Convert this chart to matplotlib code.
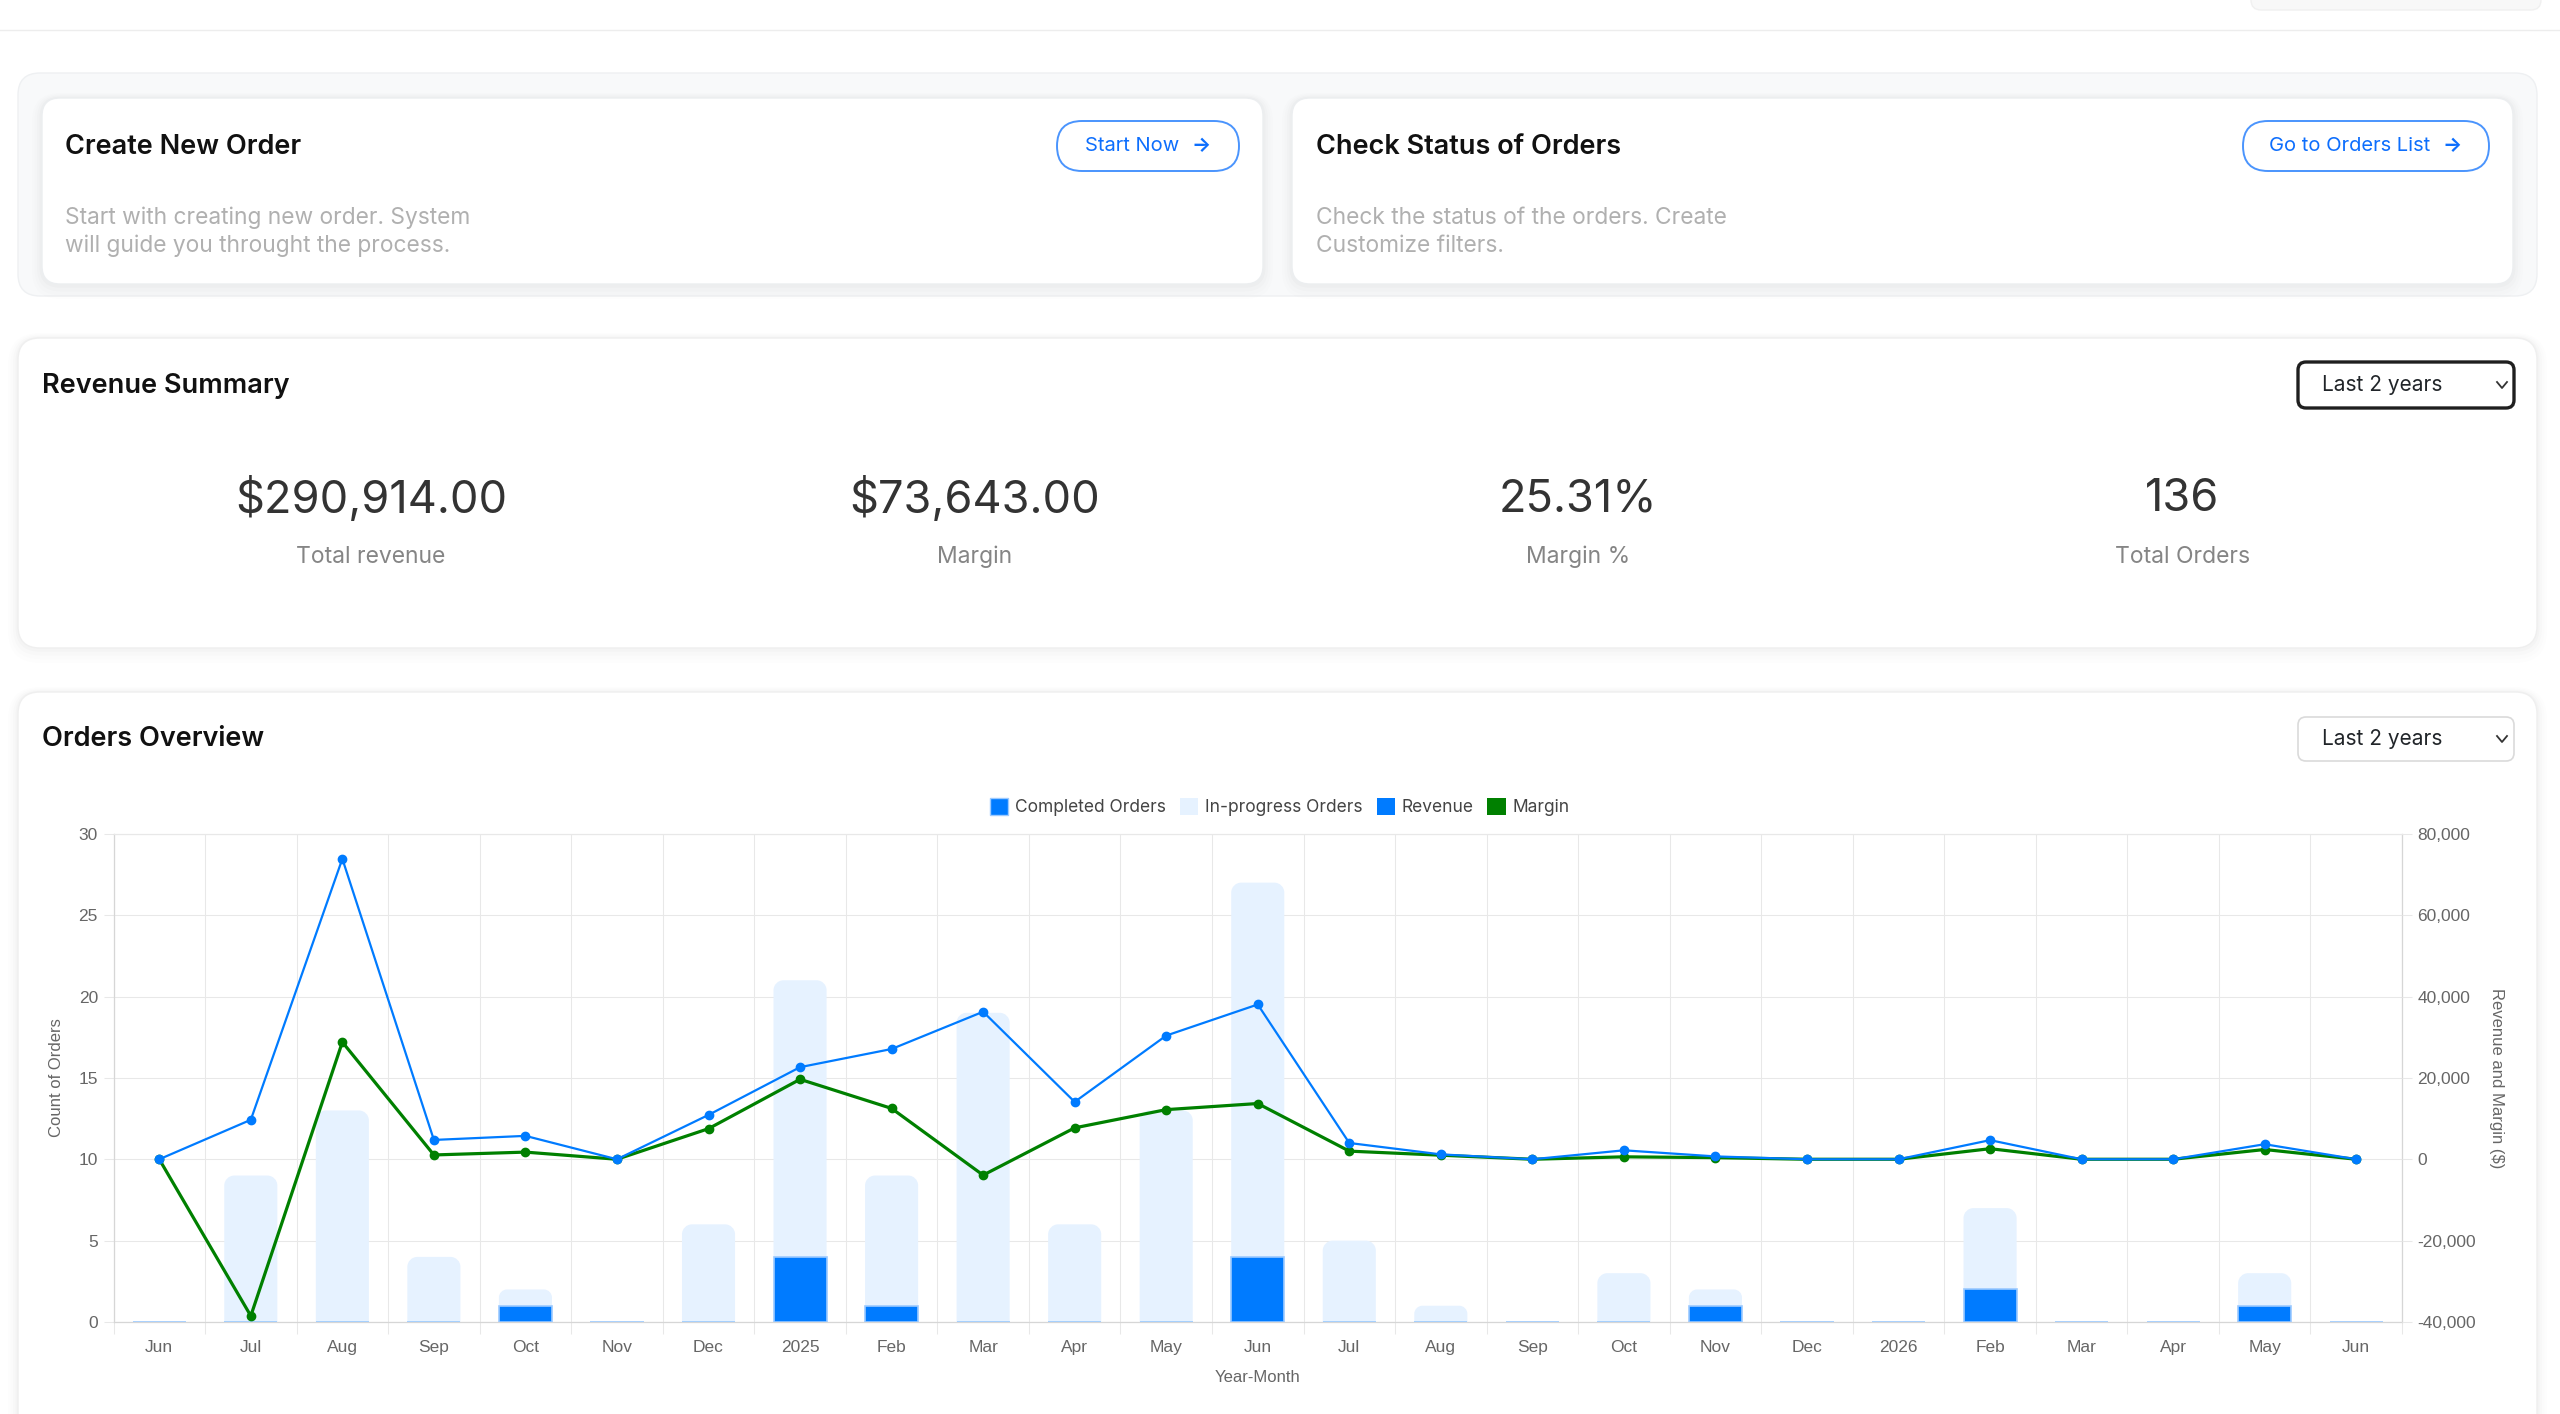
import numpy as np
import matplotlib
matplotlib.use('Agg')
import matplotlib.pyplot as plt
from matplotlib.patches import FancyBboxPatch, PathPatch, Patch
from matplotlib.path import Path
from matplotlib.ticker import FuncFormatter

# Chart data.
months = ['Jun', 'Jul', 'Aug', 'Sep', 'Oct', 'Nov', 'Dec', '2025', 'Feb', 'Mar',
          'Apr', 'May', 'Jun', 'Jul', 'Aug', 'Sep', 'Oct', 'Nov', 'Dec', '2026',
          'Feb', 'Mar', 'Apr', 'May', 'Jun']
completed = [0, 0, 0, 0, 1, 0, 0, 4, 1, 0, 0, 0, 4, 0, 0, 0, 0, 1, 0, 0, 2, 0, 0, 1, 0]
in_progress = [0, 9, 13, 4, 1, 0, 6, 17, 8, 19, 6, 13, 23, 5, 1, 0, 3, 1, 0, 0, 5, 0, 0, 2, 0]
revenue = [0, 9700, 73850, 4750, 5750, 0, 10900, 22640, 27100, 36260, 14100, 30400,
           38050, 4000, 1200, 0, 2200, 700, 0, 0, 4700, 0, 0, 3700, 0]
margin = [0, -38500, 28800, 1060, 1760, 0, 7520, 19650, 12500, -3900, 7720, 12200,
          13700, 2000, 1000, 0, 600, 400, 0, 0, 2600, 0, 0, 2400, 0]

legend_labels = ['Completed Orders', 'In-progress Orders', 'Revenue', 'Margin']

# Summary numbers.
metric_values = ['$290,914.00', '$73,643.00', '25.31%', '136']
metric_labels = ['Total revenue', 'Margin', 'Margin %', 'Total Orders']

BLUE = '#007bff'
LIGHT = '#e6f2ff'
GREEN = '#008000'
GRID = '#e8e8e8'

plt.rcParams['font.family'] = ['Inter', 'DejaVu Sans']

W, H = 2560, 1414
fig = plt.figure(figsize=(W / 100, H / 100), dpi=100)
fig.patch.set_facecolor('white')

# A pixel-space axes for the page around the chart.
page = fig.add_axes([0, 0, 1, 1])
page.set_xlim(0, W)
page.set_ylim(H, 0)
page.axis('off')


def card(x0, y0, x1, y1, r, face, edge, lw=1.0, shadow=True):
    if shadow:
        for i, a in enumerate([0.016, 0.012, 0.009, 0.006]):
            g = (i + 1) * 5
            page.add_patch(FancyBboxPatch(
                (x0 - g / 2, y0 - g / 4), x1 - x0 + g, y1 - y0 + g,
                boxstyle=f'round,pad=0,rounding_size={r + g / 2}',
                fc='black', ec='none', alpha=a))
    page.add_patch(FancyBboxPatch(
        (x0, y0), x1 - x0, y1 - y0,
        boxstyle=f'round,pad=0,rounding_size={r}', fc=face, ec=edge, lw=lw))


def pill(x0, y0, x1, y1, r, edge, lw, face='white'):
    page.add_patch(FancyBboxPatch(
        (x0, y0), x1 - x0, y1 - y0,
        boxstyle=f'round,pad=0,rounding_size={r}', fc=face, ec=edge, lw=lw))


def chevron(cx, cy):
    page.plot([cx - 5, cx, cx + 5], [cy - 3, cy + 3, cy - 3], color='#333', lw=1.3)


# Header strip
page.axhline(29.5, color='#ededed', lw=1)
pill(2251, -20, 2541, 10, 10, '#f0f0f0', 1, face='#f8f8f8')

# Quick action section
card(18, 73, 2537, 296, 22, '#f8f9fa', '#eef0f2', shadow=False)
card(42, 98, 1263, 284, 18, 'white', '#eceef0')
card(1292, 98, 2513, 284, 18, 'white', '#eceef0')

head_kw = dict(fontsize=19.5, color='#111111', va='center', fontweight='semibold')
desc_kw = dict(fontsize=16.4, color='#b0b0b0', va='center')
btn_kw = dict(fontsize=14.5, color='#0d6efd', va='center')

page.text(65, 147, 'Create New Order', **head_kw)
page.text(65, 218, 'Start with creating new order. System', **desc_kw)
page.text(65, 246, 'will guide you throught the process.', **desc_kw)
pill(1057, 121, 1239, 171, 25, '#4a94fd', 1.4)
page.text(1085, 146, 'Start Now', **btn_kw)
page.text(1201, 146, '→', ha='center', fontweight='bold', **btn_kw)

page.text(1316, 147, 'Check Status of Orders', **head_kw)
page.text(1316, 218, 'Check the status of the orders. Create', **desc_kw)
page.text(1316, 246, 'Customize filters.', **desc_kw)
pill(2243, 121, 2489, 171, 25, '#4a94fd', 1.4)
page.text(2269, 146, 'Go to Orders List', **btn_kw)
page.text(2452, 146, '→', ha='center', fontweight='bold', **btn_kw)

# Revenue summary
card(18, 338, 2537, 648, 22, 'white', '#efefef')
page.text(42, 386, 'Revenue Summary', **head_kw)
pill(2298, 362, 2514, 408, 8, '#1f1f1f', 2.4)
page.text(2322, 385, 'Last 2 years', fontsize=15, color='#212529', va='center')
chevron(2502, 385)

for i, (val, lab) in enumerate(zip(metric_values, metric_labels)):
    cx = 371 + i * 603.7
    page.text(cx, 499, val, fontsize=32.5, color='#333333', ha='center', va='center')
    page.text(cx, 557, lab, fontsize=16.5, color='#858585', ha='center', va='center')

# Orders overview card
card(18, 692, 2537, 1460, 22, 'white', '#efefef')
page.text(42, 739, 'Orders Overview', **head_kw)
pill(2298, 717, 2514, 761, 8, '#dadada', 1.2)
page.text(2322, 739, 'Last 2 years', fontsize=15, color='#212529', va='center')
chevron(2502, 739)

# Chart
L, R, T, B = 113.5, 2402, 833.8, 1322
ax = fig.add_axes([L / W, 1 - B / H, (R - L) / W, (B - T) / H])
ax.set_facecolor('none')
n = len(months)
x = np.arange(n)
ax.set_xlim(-0.5, n - 0.5)
ax.set_ylim(0, 30)
bar_w = 0.58

p0 = ax.transData.transform((0, 0))
p1 = ax.transData.transform((1, 1))
sx, sy = p1[0] - p0[0], p1[1] - p0[1]


def rounded_top_bar(xc, bottom, height, r_px=10, **kw):
    if height <= 0:
        return
    r = min(r_px, height * sy / 2, bar_w * sx / 2)
    rx, ry = r / sx, r / sy
    x0, x1 = xc - bar_w / 2, xc + bar_w / 2
    y0, y1 = bottom, bottom + height
    k = 0.5523
    verts = [(x0, y0), (x0, y1 - ry), (x0, y1 - ry + k * ry), (x0 + rx - k * rx, y1),
             (x0 + rx, y1), (x1 - rx, y1), (x1 - rx + k * rx, y1),
             (x1, y1 - ry + k * ry), (x1, y1 - ry), (x1, y0), (x0, y0)]
    codes = [Path.MOVETO, Path.LINETO, Path.CURVE4, Path.CURVE4, Path.CURVE4,
             Path.LINETO, Path.CURVE4, Path.CURVE4, Path.CURVE4, Path.LINETO,
             Path.CLOSEPOLY]
    ax.add_patch(PathPatch(Path(verts, codes), **kw))


for xi, c, p in zip(x, completed, in_progress):
    rounded_top_bar(xi, c, p, fc=LIGHT, ec='none', zorder=2)
ax.bar(x, completed, width=bar_w, color=BLUE, edgecolor='#9ccaff', linewidth=1.2,
       zorder=3)

ax.set_xticks(np.arange(-0.5, n, 1))
ax.set_xticks(x, minor=True)
ax.set_xticklabels(months, minor=True)
ax.tick_params(axis='x', which='major', length=8.6, width=0.75, color=GRID,
               labelbottom=False)
ax.tick_params(axis='x', which='minor', length=0, pad=13, labelsize=12.5,
               labelcolor='#666666')
ax.set_yticks(range(0, 31, 5))
ax.tick_params(axis='y', length=7.2, width=0.75, color=GRID, pad=4, labelsize=12.5,
               labelcolor='#666666')
ax.grid(True, which='major', color=GRID, lw=0.75)
ax.set_axisbelow(True)
for name, sp in ax.spines.items():
    sp.set_color('#d6d6d6' if name in ('left', 'bottom', 'right') else GRID)
    sp.set_linewidth(0.9)

for lab in ax.get_xticklabels(minor=True) + ax.get_yticklabels():
    lab.set_family(['Liberation Sans', 'DejaVu Sans'])

ax2 = ax.twinx()
ax2.set_ylim(-40000, 80000)
ax2.set_yticks(range(-40000, 80001, 20000))
ax2.yaxis.set_major_formatter(FuncFormatter(lambda v, _: f'{int(v):,}'))
ax2.tick_params(axis='y', length=7.2, width=0.75, color=GRID, pad=4, labelsize=12.5,
                labelcolor='#666666')
for lab in ax2.get_yticklabels():
    lab.set_family(['Liberation Sans', 'DejaVu Sans'])
for sp in ax2.spines.values():
    sp.set_visible(False)

ax2.plot(x, margin, color=GREEN, lw=2.3, marker='o', ms=6, zorder=3)
ax2.plot(x, revenue, color=BLUE, lw=1.6, marker='o', ms=6, zorder=4)

title_kw = dict(fontsize=12, color='#666666', ha='center', va='center',
                family=['Liberation Sans', 'DejaVu Sans'], transform=ax.transAxes)
ax.text(-0.0247, 0.5, 'Count of Orders', rotation=90, **title_kw)
ax.text(1.0411, 0.5, 'Revenue and Margin ($)', rotation=270, **title_kw)
ax.text(0.5, -0.1147, 'Year-Month', **title_kw)

handles = [Patch(fc=BLUE, ec='#9ccaff'), Patch(fc=LIGHT, ec='none'),
           Patch(fc=BLUE, ec='none'), Patch(fc=GREEN, ec='none')]
fig.legend(handles, legend_labels, loc='center', ncol=4, frameon=False,
           bbox_to_anchor=(1280 / W, 1 - 807 / H), fontsize=12.5,
           handlelength=1.04, handleheight=1.15, handletextpad=0.4,
           columnspacing=0.8, labelcolor='#444444')

fig.savefig('out.png', dpi=100)
